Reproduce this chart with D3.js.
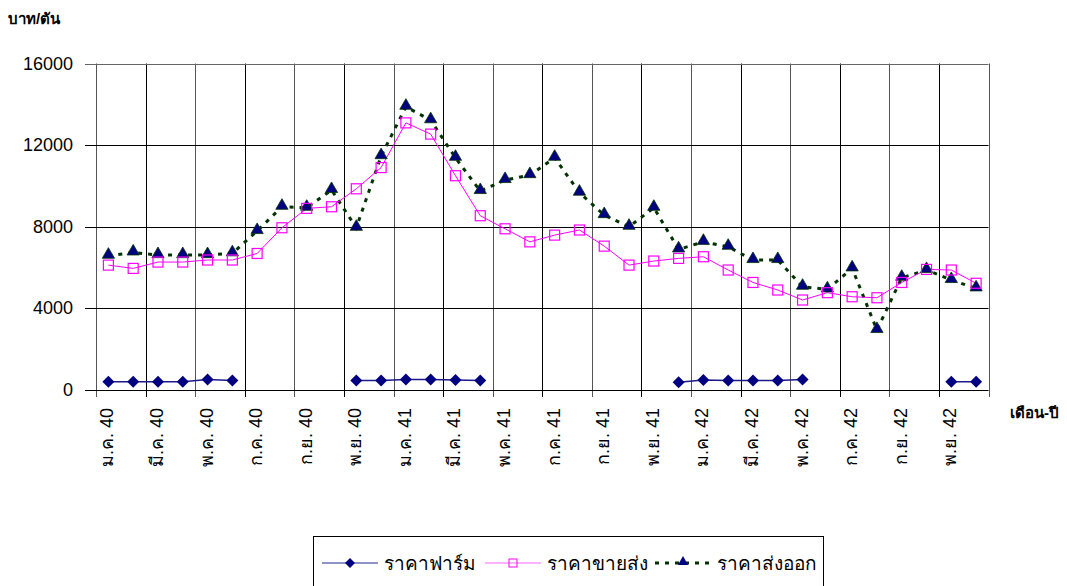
<!DOCTYPE html>
<meta charset="utf-8">
<script src="https://d3js.org/d3.v7.min.js"></script>
<html>
<body style="margin:0;background:#fff">
<div id="chart"></div>
<script>
// months Jan 2540 .. Dec 2542
var monthNames = ["ม.ค.", "ก.พ.", "มี.ค.", "เม.ย.", "พ.ค.", "มิ.ย.", "ก.ค.", "ส.ค.", "ก.ย.", "ต.ค.", "พ.ย.", "ธ.ค."];
var years = ["40", "41", "42"];
var months = [];
years.forEach(function(y) { monthNames.forEach(function(m) { months.push(m + " " + y); }); });

var farm = [410, 410, 410, 410, 520, 460, null, null, null, null, 460, 460,
            520, 520, 490, 460, null, null, null, null, null, null, null, 375,
            490, 460, 460, 460, 520, null, null, null, null, null, 410, 410];
var wholesale = [6120, 5960, 6270, 6270, 6370, 6370, 6690, 7950, 8900, 8980, 9860, 10900,
                 13090, 12540, 10500, 8540, 7900, 7260, 7590, 7840, 7050, 6120, 6320, 6450,
                 6530, 5880, 5270, 4900, 4410, 4770, 4570, 4520, 5270, 5910, 5880, 5230];
var exportP = [6580, 6740, 6610, 6610, 6610, 6700, 7790, 8980, 8930, 9800, 7950, 11460,
               13880, 13220, 11380, 9750, 10290, 10530, 11380, 9670, 8570, 8000, 8930, 6890,
               7260, 7020, 6370, 6370, 5060, 4930, 5960, 2940, 5500, 5880, 5390, 4980];
var yTicks = [0, 4000, 8000, 12000, 16000];
var seriesNames = ["ราคาฟาร์ม", "ราคาขายส่ง", "ราคาส่งออก"];

var W = 1067, H = 586;
var margin = {top: 63.5, right: 78.5, bottom: 196, left: 96};
var font = "'Liberation Sans', Arial, sans-serif";

var svg = d3.select("#chart").append("svg")
    .attr("width", W).attr("height", H)
    .style("font-family", font);

var x = d3.scaleBand().domain(d3.range(36)).range([margin.left, W - margin.right]).padding(0);
var y = d3.scaleLinear().domain([0, 16000]).range([H - margin.bottom, margin.top]);
var cx = function(i) { return x(i) + x.bandwidth() / 2; };

// grid
var vIdx = d3.range(0, 37, 2);
var xEdge = function(i) { return i < 36 ? x(i) : x(35) + x.bandwidth(); };
svg.append("g").selectAll("line").data(vIdx).enter().append("line")
    .attr("x1", function(i) { return Math.round(xEdge(i)) + 0.5; })
    .attr("x2", function(i) { return Math.round(xEdge(i)) + 0.5; })
    .attr("y1", y(16000)).attr("y2", y(0) + 7)
    .attr("stroke", function(i) { return i % 4 == 0 ? "#555" : "#000"; })
    .attr("stroke-width", 1);
svg.append("g").selectAll("line").data(yTicks).enter().append("line")
    .attr("x1", margin.left - 11).attr("x2", W - margin.right)
    .attr("y1", function(d) { return Math.round(y(d)) + 0.5; })
    .attr("y2", function(d) { return Math.round(y(d)) + 0.5; })
    .attr("stroke", function(d) { return d == 16000 ? "#666" : "#000"; });

// y labels
svg.append("g").selectAll("text").data(yTicks).enter().append("text")
    .attr("x", 73).attr("y", function(d) { return y(d) + 6; })
    .attr("text-anchor", "end").attr("font-size", 18).attr("fill", "#000")
    .text(function(d) { return d; });

// x labels
svg.append("g").selectAll("text").data(d3.range(0, 36, 2)).enter().append("text")
    .attr("transform", function(i) { return "translate(" + (cx(i) + 5) + "," + 408 + ") rotate(-90)"; })
    .attr("text-anchor", "end").attr("font-size", 18).attr("fill", "#000")
    .text(function(i) { return months[i]; });

svg.append("text").attr("x", 8).attr("y", 24).attr("font-size", 15).attr("font-weight", "bold")
    .text("บาท/ตัน");
svg.append("text").attr("x", 1010).attr("y", 418).attr("font-size", 15).attr("font-weight", "bold")
    .text("เดือน-ปี");

// lines
var line = d3.line()
    .defined(function(d) { return d != null; })
    .x(function(d, i) { return cx(i); })
    .y(function(d) { return y(d); });

svg.append("path").datum(exportP).attr("d", line)
    .attr("fill", "none").attr("stroke", "#003300").attr("stroke-width", 3)
    .attr("stroke-dasharray", "4,6");
svg.append("path").datum(wholesale).attr("d", line)
    .attr("fill", "none").attr("stroke", "#ff00ff").attr("stroke-width", 1);
svg.append("path").datum(farm).attr("d", line)
    .attr("fill", "none").attr("stroke", "#1a1a88").attr("stroke-width", 1.5);

var tri = d3.symbol().type(d3.symbolTriangle).size(65);
var dia = "M0,-6L6,0L0,6L-6,0Z";

svg.append("g").selectAll("path").data(exportP).enter().append("path")
    .attr("transform", function(d, i) { return "translate(" + cx(i) + "," + (y(d) - 1) + ")"; })
    .attr("d", tri).attr("fill", "#000080").attr("stroke", "#003300").attr("stroke-width", 0.8);
svg.append("g").selectAll("rect").data(wholesale).enter().append("rect")
    .attr("x", function(d, i) { return cx(i) - 5; }).attr("y", function(d) { return y(d) - 5; })
    .attr("width", 10).attr("height", 10)
    .attr("fill", "none").attr("stroke", "#ff00ff").attr("stroke-width", 1.2);
var farmPts = farm.map(function(v, i) { return {v: v, i: i}; })
    .filter(function(d) { return d.v != null; });
svg.append("g").selectAll("path").data(farmPts).enter().append("path")
    .attr("transform", function(d) { return "translate(" + cx(d.i) + "," + y(d.v) + ")"; })
    .attr("d", dia).attr("fill", "#000080");

// legend
var lg = svg.append("g");
lg.append("rect").attr("x", 313.5).attr("y", 536.5).attr("width", 510).attr("height", 60)
    .attr("fill", "#fff").attr("stroke", "#000");
var items = [
  {x: 322, name: seriesNames[0]},
  {x: 485, name: seriesNames[1]},
  {x: 655, name: seriesNames[2]}
];
var ly = 563;
lg.append("line").attr("x1", items[0].x).attr("x2", items[0].x + 56).attr("y1", ly).attr("y2", ly)
    .attr("stroke", "#6670b8").attr("stroke-width", 1.5);
lg.append("path").attr("transform", "translate(" + (items[0].x + 28) + "," + ly + ")").attr("d", "M0,-5L5,0L0,5L-5,0Z").attr("fill", "#000080");
lg.append("line").attr("x1", items[1].x).attr("x2", items[1].x + 56).attr("y1", ly).attr("y2", ly)
    .attr("stroke", "#ff66ff").attr("stroke-width", 1.2);
lg.append("rect").attr("x", items[1].x + 24).attr("y", ly - 4).attr("width", 8).attr("height", 8)
    .attr("fill", "none").attr("stroke", "#ff00ff");
lg.append("line").attr("x1", items[2].x).attr("x2", items[2].x + 56).attr("y1", ly).attr("y2", ly)
    .attr("stroke", "#003300").attr("stroke-width", 3).attr("stroke-dasharray", "4,6");
lg.append("path").attr("transform", "translate(" + (items[2].x + 28) + "," + (ly - 1) + ")").attr("d", d3.symbol().type(d3.symbolTriangle).size(45)).attr("fill", "#000080");
lg.selectAll("text.lt").data(items).enter().append("text")
    .attr("x", function(d) { return d.x + 62; }).attr("y", ly + 7)
    .attr("font-size", 19).text(function(d) { return d.name; });
</script>
</body>
</html>
